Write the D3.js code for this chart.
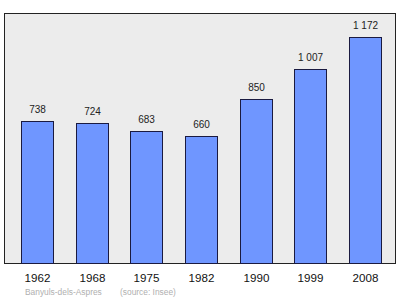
<!DOCTYPE html>
<html>
<head>
<meta charset="utf-8">
<script src="https://cdn.jsdelivr.net/npm/d3@7"></script>
<style>
  body { margin: 0; background: #fff; }
  text { font-family: "Liberation Sans", Arial, sans-serif; }
</style>
</head>
<body>
<div id="chart"></div>
<script>
var years = ["1962", "1968", "1975", "1982", "1990", "1999", "2008"];
var population = [738, 724, 683, 660, 850, 1007, 1172];
var valueLabels = ["738", "724", "683", "660", "850", "1 007", "1 172"];
var footerParts = ["Banyuls-dels-Aspres", "(source: Insee)"];

var width = 400, height = 299;
// plot frame
var frame = { left: 4.5, top: 13.5, right: 395.5, bottom: 263.5 };

var svg = d3.select("#chart").append("svg")
            .attr("width", width)
            .attr("height", height);

// frame background
svg.append("rect")
   .attr("x", frame.left)
   .attr("y", frame.top)
   .attr("width", frame.right - frame.left)
   .attr("height", frame.bottom - frame.top)
   .attr("fill", "#ececec")
   .attr("stroke", "#222")
   .attr("stroke-width", 1);

var xScale = d3.scaleBand()
               .domain(years)
               .range([4.6, 397.6])
               .paddingInner(0.415)
               .paddingOuter(0.3);

var yScale = d3.scaleLinear()
               .domain([0, 1292])
               .range([frame.bottom, frame.top]);

var barW = 32;

svg.append("g")
   .selectAll("rect")
   .data(population)
   .enter().append("rect")
   .attr("x", function(d, i) { return Math.round(xScale(years[i])) + 0.5; })
   .attr("y", function(d) { return Math.round(yScale(d)) + 0.5; })
   .attr("width", barW)
   .attr("height", function(d) { return frame.bottom - Math.round(yScale(d)) - 0.5; })
   .attr("fill", "#6f96ff")
   .attr("stroke", "#1a1a40")
   .attr("stroke-width", 1);

// value labels
svg.append("g")
   .selectAll("text")
   .data(population)
   .enter().append("text")
   .attr("x", function(d, i) { return Math.round(xScale(years[i])) + barW / 2 + 0.5; })
   .attr("y", function(d) { return yScale(d) - 8; })
   .attr("text-anchor", "middle")
   .attr("font-size", 10)
   .attr("fill", "#222")
   .text(function(d, i) { return valueLabels[i]; });

// x axis labels
svg.append("g")
   .selectAll("text")
   .data(years)
   .enter().append("text")
   .attr("x", function(d) { return Math.round(xScale(d)) + barW / 2 + 0.5; })
   .attr("y", 282)
   .attr("text-anchor", "middle")
   .attr("font-size", 11.6)
   .attr("fill", "#111")
   .text(function(d) { return d; });

// footer
svg.append("g")
   .selectAll("text")
   .data(footerParts)
   .enter().append("text")
   .attr("x", function(d, i) { return i === 0 ? 25 : 120; })
   .attr("y", 295)
   .attr("font-size", 8.4)
   .attr("fill", "#b0b0b0")
   .text(function(d) { return d; });
</script>
</body>
</html>
